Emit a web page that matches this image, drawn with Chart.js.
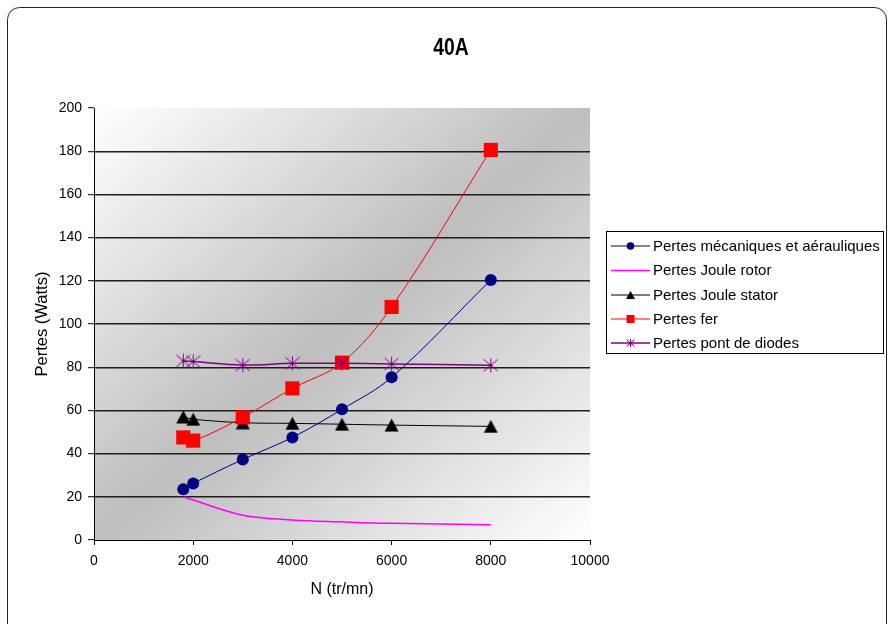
<!DOCTYPE html>
<html>
<head>
<meta charset="utf-8">
<script src="https://cdn.jsdelivr.net/npm/chart.js@4"></script>
<style>
    html, body { margin: 0; padding: 0; background: #fff; }
    #wrap { position: relative; width: 888px; height: 624px; }
</style>
</head>
<body>
<div id="wrap"><canvas id="pertesChart" width="888" height="624"></canvas></div>
<script>
// Vitesse de rotation (tr/mn) et pertes mesurées (W)
const vitesse = [1800, 2000, 3000, 4000, 5000, 6000, 8000];
const pertesMeca = [23.5, 26.2, 37.3, 47.5, 60.5, 75.3, 120.4];
const pertesRotor = [20, 18.5, 11.5, 9.3, 8.4, 7.7, 7.1];
const pertesStator = [57, 55.9, 54.3, 54, 53.6, 53.2, 52.6];
const pertesFer = [47.5, 46, 56.8, 70.2, 82.1, 107.9, 180.6];
const pertesDiodes = [82.9, 82.6, 81, 81.8, 81.8, 81.5, 80.9];

const seriesNames = [
    'Pertes mécaniques et aérauliques',
    'Pertes Joule rotor',
    'Pertes Joule stator',
    'Pertes fer',
    'Pertes pont de diodes'
];
const yTicks = [0, 20, 40, 60, 80, 100, 120, 140, 160, 180, 200];
const xTicks = [0, 2000, 4000, 6000, 8000, 10000];

const FONT = '"Liberation Sans", Arial, sans-serif';

// --- marker shapes -------------------------------------------------------
function drawTriangle(ctx, x, y, w, h, color) {
    ctx.beginPath();
    ctx.moveTo(x, y - h / 2);
    ctx.lineTo(x + w / 2, y + h / 2);
    ctx.lineTo(x - w / 2, y + h / 2);
    ctx.closePath();
    ctx.fillStyle = color;
    ctx.fill();
}

function drawStar(ctx, x, y, s, color) {
    const h = s / 2;
    ctx.strokeStyle = color;
    ctx.lineWidth = 1;
    ctx.beginPath();
    ctx.moveTo(x - h, y - h * 0.85); ctx.lineTo(x + h, y + h * 0.85);
    ctx.moveTo(x + h, y - h * 0.85); ctx.lineTo(x - h, y + h * 0.85);
    ctx.moveTo(x, y - h); ctx.lineTo(x, y + h);
    ctx.stroke();
    ctx.fillStyle = color;
    ctx.beginPath();
    ctx.arc(x, y, 1.6, 0, Math.PI * 2);
    ctx.fill();
}

function markerCanvas(w, h, paint) {
    const c = document.createElement('canvas');
    c.width = w; c.height = h;
    paint(c.getContext('2d'), w / 2, h / 2);
    return c;
}

const triangleMarker = markerCanvas(15, 14, (g, cx, cy) => drawTriangle(g, cx, cy, 14, 13, '#000000'));
const starMarker = markerCanvas(15, 15, (g, cx, cy) => drawStar(g, cx, cy, 14, '#800080'));

function toPoints(values) {
    return vitesse.map((v, i) => ({ x: v, y: values[i] }));
}

// --- plot area background, frame, title, axis titles ---------------------
const decorPlugin = {
    id: 'decor',
    beforeDraw(chart) {
        const ctx = chart.ctx;
        const a = chart.chartArea;
        ctx.save();
        // outer rounded frame
        ctx.strokeStyle = '#222';
        ctx.lineWidth = 1;
        ctx.beginPath();
        ctx.roundRect(7.5, 7.5, 879, 640, 12);
        ctx.stroke();

        // diagonal gradient: light corners top-left / bottom-right, darker along the other diagonal
        const w = a.right - a.left, h = a.bottom - a.top;
        const cx = a.left + w / 2, cy = a.top + h / 2;
        const k = (w * h) / (w * w + h * h);
        const g = ctx.createLinearGradient(cx - k * h, cy - k * w, cx + k * h, cy + k * w);
        g.addColorStop(0, '#ffffff');
        g.addColorStop(0.5, '#bebebe');
        g.addColorStop(1, '#ffffff');
        ctx.fillStyle = g;
        ctx.fillRect(a.left, a.top, w, h);
        ctx.restore();
    },
    afterDraw(chart) {
        const ctx = chart.ctx;
        const a = chart.chartArea;
        ctx.save();
        ctx.fillStyle = '#000';
        ctx.textAlign = 'center';
        ctx.textBaseline = 'middle';

        // condensed bold title
        ctx.save();
        ctx.translate(451, 48);
        ctx.scale(0.88, 1.1);
        ctx.font = 'bold 22px ' + FONT;
        ctx.fillText('40A', 0, 0);
        ctx.restore();

        ctx.font = '16px ' + FONT;
        ctx.fillText('N (tr/mn)', (a.left + a.right) / 2, 590);

        ctx.translate(42, (a.top + a.bottom) / 2);
        ctx.rotate(-Math.PI / 2);
        ctx.font = '16.5px ' + FONT;
        ctx.fillText('Pertes (Watts)', 0, 0);
        ctx.restore();
    }
};

// --- boxed legend on the right ------------------------------------------
const legendPlugin = {
    id: 'boxLegend',
    afterDraw(chart) {
        const ctx = chart.ctx;
        const left = 606, top = 231, right = 883, bottom = 353;
        ctx.save();
        ctx.fillStyle = '#fff';
        ctx.fillRect(left, top, right - left, bottom - top);
        ctx.strokeStyle = '#000';
        ctx.lineWidth = 1;
        ctx.strokeRect(left + 0.5, top + 0.5, right - left, bottom - top);

        const rowY = [246, 270.5, 295, 319, 343];
        ctx.font = '15px ' + FONT;
        ctx.textBaseline = 'middle';
        ctx.textAlign = 'left';
        chart.data.datasets.forEach((ds, i) => {
            const y = rowY[i];
            ctx.strokeStyle = ds.borderColor;
            ctx.lineWidth = ds.borderWidth;
            ctx.beginPath();
            ctx.moveTo(611, y);
            ctx.lineTo(650, y);
            ctx.stroke();
            const mx = 630.5;
            if (ds.legendMarker === 'circle') {
                ctx.fillStyle = ds.backgroundColor;
                ctx.beginPath();
                ctx.arc(mx, y, 3.8, 0, Math.PI * 2);
                ctx.fill();
            } else if (ds.legendMarker === 'square') {
                ctx.fillStyle = ds.backgroundColor;
                ctx.fillRect(mx - 4, y - 4, 8, 8);
            } else if (ds.legendMarker === 'triangle') {
                drawTriangle(ctx, mx, y, 9, 8, '#000');
            } else if (ds.legendMarker === 'star') {
                drawStar(ctx, mx, y, 8, ds.borderColor);
            }
            ctx.fillStyle = '#000';
            ctx.fillText(seriesNames[i], 653, y + 0.5);
        });
        ctx.restore();
    }
};

function initChart() {
    const ctx = document.getElementById('pertesChart').getContext('2d');

    new Chart(ctx, {
        type: 'scatter',
        data: {
            datasets: [
                {
                    label: seriesNames[0],
                    data: toPoints(pertesMeca),
                    showLine: true,
                    borderColor: '#000080',
                    backgroundColor: '#000080',
                    borderWidth: 1,
                    pointStyle: 'circle',
                    pointRadius: 6,
                    pointBorderWidth: 0,
                    tension: 0.35,
                    order: 5,
                    legendMarker: 'circle'
                },
                {
                    label: seriesNames[1],
                    data: toPoints(pertesRotor),
                    showLine: true,
                    borderColor: '#ff00ff',
                    backgroundColor: '#ff00ff',
                    borderWidth: 1.5,
                    pointRadius: 0,
                    tension: 0.35,
                    order: 4,
                    legendMarker: 'none'
                },
                {
                    label: seriesNames[2],
                    data: toPoints(pertesStator),
                    showLine: true,
                    borderColor: '#000000',
                    backgroundColor: '#000000',
                    borderWidth: 1,
                    pointStyle: triangleMarker,
                    tension: 0.35,
                    order: 3,
                    legendMarker: 'triangle'
                },
                {
                    label: seriesNames[3],
                    data: toPoints(pertesFer),
                    showLine: true,
                    borderColor: '#ff0000',
                    backgroundColor: '#ff0000',
                    borderWidth: 1,
                    pointStyle: 'rect',
                    pointRadius: 10,
                    pointBorderWidth: 0,
                    tension: 0.35,
                    order: 2,
                    legendMarker: 'square'
                },
                {
                    label: seriesNames[4],
                    data: toPoints(pertesDiodes),
                    showLine: true,
                    borderColor: '#800080',
                    backgroundColor: '#800080',
                    borderWidth: 1.5,
                    pointStyle: starMarker,
                    tension: 0.35,
                    order: 1,
                    legendMarker: 'star'
                }
            ]
        },
        options: {
            responsive: false,
            animation: false,
            events: [],
            layout: {
                padding: { left: 0, top: 108, right: 298, bottom: 0 }
            },
            plugins: {
                legend: { display: false },
                title: { display: false },
                tooltip: { enabled: false }
            },
            scales: {
                x: {
                    type: 'linear',
                    min: 0,
                    max: 10000,
                    afterFit: (scale) => { scale.height = 84; },
                    afterBuildTicks: (scale) => { scale.ticks = xTicks.map(v => ({ value: v })); },
                    border: { display: true, color: '#000', width: 1 },
                    grid: {
                        drawOnChartArea: false,
                        drawTicks: true,
                        tickLength: 5,
                        tickColor: '#000'
                    },
                    ticks: {
                        color: '#000',
                        padding: 8,
                        maxRotation: 0,
                        font: { family: FONT, size: 14 },
                        callback: (v) => String(v)
                    }
                },
                y: {
                    min: 0,
                    max: 200,
                    afterFit: (scale) => { scale.width = 94; },
                    afterBuildTicks: (scale) => { scale.ticks = yTicks.map(v => ({ value: v })); },
                    border: { display: true, color: '#000', width: 1 },
                    grid: {
                        color: (c) => (c.tick && (c.tick.value === 0 || c.tick.value === 200)) ? 'rgba(0,0,0,0)' : '#1e1e1e',
                        lineWidth: 1.4,
                        drawTicks: true,
                        tickLength: 6,
                        tickColor: '#000',
                        tickWidth: 1
                    },
                    ticks: {
                        color: '#000',
                        padding: 6,
                        font: { family: FONT, size: 14 },
                        callback: (v) => String(v)
                    }
                }
            }
        },
        plugins: [decorPlugin, legendPlugin]
    });
}

document.addEventListener('DOMContentLoaded', initChart);
</script>
</body>
</html>
